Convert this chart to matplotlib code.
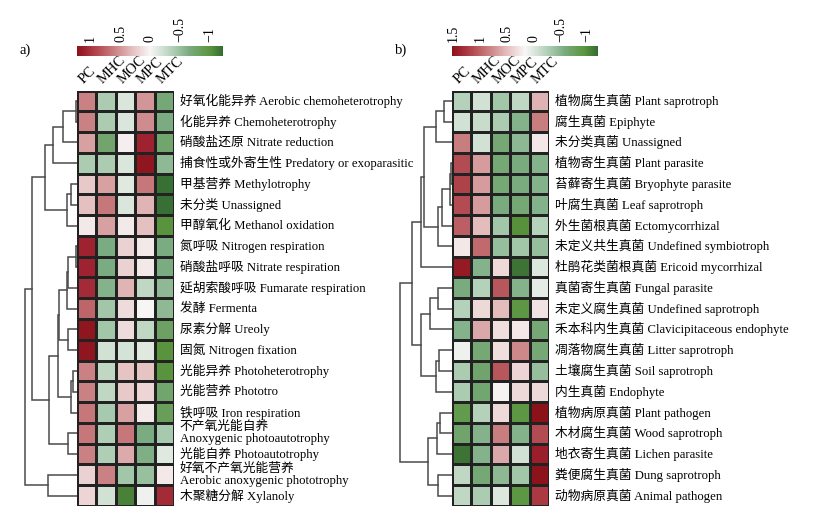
import matplotlib
matplotlib.use('Agg')
import matplotlib.pyplot as plt
import numpy as np
from matplotlib.colors import LinearSegmentedColormap, Normalize
from matplotlib.cm import ScalarMappable

plt.rcParams['font.family'] = ['Liberation Serif', 'Noto Sans CJK SC']
plt.rcParams['axes.unicode_minus'] = True

samples = ['PC', 'MHC', 'MOC', 'MPC', 'MTC']

# a) bacterial functions (FAPROTAX)
bact_labels = [
    '好氧化能异养 Aerobic chemoheterotrophy',
    '化能异养 Chemoheterotrophy',
    '硝酸盐还原 Nitrate reduction',
    '捕食性或外寄生性 Predatory or exoparasitic',
    '甲基营养 Methylotrophy',
    '未分类 Unassigned',
    '甲醇氧化 Methanol oxidation',
    '氮呼吸 Nitrogen respiration',
    '硝酸盐呼吸 Nitrate respiration',
    '延胡索酸呼吸 Fumarate respiration',
    '发酵 Fermenta',
    '尿素分解 Ureoly',
    '固氮 Nitrogen fixation',
    '光能异养 Photoheterotrophy',
    '光能营养 Phototro',
    '铁呼吸 Iron respiration',
    '不产氧光能自养\nAnoxygenic photoautotrophy',
    '光能自养 Photoautotrophy',
    '好氧不产氧光能营养\nAerobic anoxygenic phototrophy',
    '木聚糖分解 Xylanoly',
]
bact_values = [
    [0.60, -0.40, -0.15, 0.50, -0.70],
    [0.60, -0.40, -0.15, 0.55, -0.65],
    [0.45, -0.75, 0.05, 1.10, -0.75],
    [-0.40, -0.40, -0.15, 1.20, -0.55],
    [0.25, 0.45, -0.12, 0.65, -1.20],
    [0.30, 0.65, -0.15, 0.35, -1.20],
    [0.08, 0.45, 0.08, 0.30, -1.00],
    [1.10, -0.65, 0.20, 0.08, -0.65],
    [1.10, -0.65, 0.20, 0.08, -0.65],
    [1.05, -0.60, 0.35, -0.30, -0.55],
    [0.75, -0.45, 0.15, 0.00, -0.55],
    [1.20, -0.45, 0.15, -0.30, -0.80],
    [1.20, -0.20, -0.18, -0.12, -1.00],
    [0.60, -0.30, 0.28, 0.28, -1.00],
    [0.60, -0.30, 0.25, 0.18, -0.75],
    [0.65, -0.42, 0.45, 0.08, -0.85],
    [0.65, -0.38, 0.65, -0.65, -0.42],
    [0.60, -0.38, 0.40, -0.62, -0.12],
    [0.20, 0.60, -0.45, -0.50, 0.08],
    [0.18, -0.20, -1.10, -0.05, 1.05],
]
# row tree: (child, child, height); merge k gets id 20 + k
bact_links = [
    (0, 1, 1), (20, 2, 14), (21, 3, 24), (4, 5, 6), (23, 6, 10),
    (22, 24, 32), (7, 8, 0.5), (26, 9, 9), (27, 10, 10), (11, 12, 9.3),
    (28, 29, 17.7), (13, 14, 4.3), (31, 15, 6.3), (30, 32, 18.7),
    (16, 17, 8.7), (33, 34, 27.7), (25, 35, 45.3), (18, 19, 28.7),
    (36, 37, 52),
]
bact_ticks = [1, 0.5, 0, -0.5, -1]
bact_range = (-1.22, 1.23)

# b) fungal guilds (FUNGuild)
fungi_labels = [
    '植物腐生真菌 Plant saprotroph',
    '腐生真菌 Epiphyte',
    '未分类真菌 Unassigned',
    '植物寄生真菌 Plant parasite',
    '苔藓寄生真菌 Bryophyte parasite',
    '叶腐生真菌 Leaf saprotroph',
    '外生菌根真菌 Ectomycorrhizal',
    '未定义共生真菌 Undefined symbiotroph',
    '杜鹃花类菌根真菌 Ericoid mycorrhizal',
    '真菌寄生真菌 Fungal parasite',
    '未定义腐生真菌 Undefined saprotroph',
    '禾本科内生真菌 Clavicipitaceous endophyte',
    '凋落物腐生真菌 Litter saprotroph',
    '土壤腐生真菌 Soil saprotroph',
    '内生真菌 Endophyte',
    '植物病原真菌 Plant pathogen',
    '木材腐生真菌 Wood saprotroph',
    '地衣寄生真菌 Lichen parasite',
    '粪便腐生真菌 Dung saprotroph',
    '动物病原真菌 Animal pathogen',
]
fungi_values = [
    [-0.24, -0.07, -0.35, -0.18, 0.56],
    [-0.07, -0.12, -0.29, -0.52, 0.84],
    [0.84, -0.07, -0.63, -0.46, 0.25],
    [1.12, 0.67, -0.63, -0.58, -0.52],
    [1.18, 0.67, -0.63, -0.58, -0.52],
    [1.12, 0.67, -0.58, -0.63, -0.52],
    [1.01, 0.50, -0.35, -0.97, -0.24],
    [0.25, 0.95, -0.41, -0.35, -0.41],
    [1.45, -0.52, 0.33, -1.14, -0.01],
    [-0.58, -0.24, 1.07, -0.52, 0.05],
    [-0.24, 0.33, 0.50, -0.92, 0.27],
    [-0.52, 0.61, 0.30, 0.25, -0.63],
    [0.10, -0.63, 0.30, 0.78, -0.63],
    [-0.29, -0.69, 1.07, 0.36, -0.41],
    [-0.29, -0.66, 0.18, 0.33, 0.33],
    [-0.86, -0.24, 0.33, -0.92, 1.52],
    [-0.69, -0.52, 0.84, -0.52, 1.12],
    [-1.14, -0.52, 0.61, -0.07, 1.41],
    [-0.18, -0.63, -0.46, -0.35, 1.50],
    [-0.18, -0.29, -0.01, -0.92, 1.24],
]
fungi_links = [
    (0, 1, 7.7), (20, 2, 16.3), (3, 4, 1), (22, 5, 2), (23, 6, 10),
    (24, 7, 14.3), (21, 25, 27.7), (26, 8, 31), (9, 10, 13.7),
    (28, 11, 22), (12, 13, 13), (30, 14, 16.3), (29, 31, 31),
    (27, 32, 40.3), (15, 16, 12), (34, 17, 15.3), (18, 19, 14.3),
    (35, 36, 23.7), (33, 37, 52),
]
fungi_ticks = [1.5, 1, 0.5, 0, -0.5, -1]
fungi_range = (-1.2, 1.52)

cmap = LinearSegmentedColormap.from_list('gwr', [
    (0.0, '#356b33'), (0.09, '#5b953d'), (0.23, '#7aab80'),
    (0.33, '#a9cbb0'), (0.5, '#f8f6f6'), (0.62, '#e5c0c0'),
    (0.74, '#cb8385'), (0.86, '#b24a50'), (0.95, '#9e2230'),
    (1.0, '#8b1219')])

W, H = 818, 517
fig = plt.figure(figsize=(W / 100, H / 100), dpi=100)


def box(x0, y0, x1, y1):
    return [x0 / W, 1 - y1 / H, (x1 - x0) / W, (y1 - y0) / H]


def draw_dendro(ax, links, n):
    pos = {i: (i + 0.5, 0.0) for i in range(n)}
    for k, (a, b, h) in enumerate(links):
        ya, ha = pos[a]
        yb, hb = pos[b]
        ax.plot([ha, h, h, hb], [ya, ya, yb, yb], color='#4a4a4a', lw=1.1,
                solid_joinstyle='miter')
        pos[n + k] = ((ya + yb) / 2, h)
    ax.set_xlim(53, 0)
    ax.set_ylim(n, 0)
    ax.axis('off')


def panel(x0, tag, labels, values, links, ticks, vrange):
    vals = np.array(values)
    n = len(labels)
    top, bottom = 90.5, 506
    norm = Normalize(vmin=vrange[0], vmax=vrange[1])

    dax = fig.add_axes(box(x0 - 53, top, x0, bottom))
    draw_dendro(dax, links, n)

    hax = fig.add_axes(box(x0, top, x0 + 97, bottom))
    hax.pcolormesh(np.arange(6), np.arange(n + 1), vals, cmap=cmap, norm=norm,
                   edgecolors='#222222', linewidth=0.8)
    hax.set_xlim(0, 5)
    hax.set_ylim(n, 0)
    hax.axis('off')
    for j, s in enumerate(samples):
        hax.text(j + 0.45, -0.2, s, rotation=45, ha='left', va='bottom',
                 rotation_mode='anchor', fontsize=10.5)
    for i, lab in enumerate(labels):
        hax.text(5.3, i + 0.5, lab, ha='left', va='center', fontsize=9.2,
                 linespacing=1.0)

    cax = fig.add_axes(box(x0, 46, x0 + 146, 56))
    cb = fig.colorbar(ScalarMappable(norm=norm, cmap=cmap), cax=cax,
                      orientation='horizontal')
    cb.outline.set_visible(False)
    cax.invert_xaxis()
    cax.xaxis.set_ticks_position('top')
    cb.set_ticks(ticks)
    cb.set_ticklabels([('%g' % t).replace('-', '\u2212') for t in ticks])
    cax.tick_params(axis='x', length=0, pad=3, labelsize=10, labelrotation=90)

    fig.text((x0 - 57) / W, 1 - 50 / H, tag, ha='left', va='center', fontsize=10.5)


panel(77, 'a)', bact_labels, bact_values, bact_links, bact_ticks, bact_range)
panel(452, 'b)', fungi_labels, fungi_values, fungi_links, fungi_ticks, fungi_range)

fig.savefig('out.png', dpi=100)
